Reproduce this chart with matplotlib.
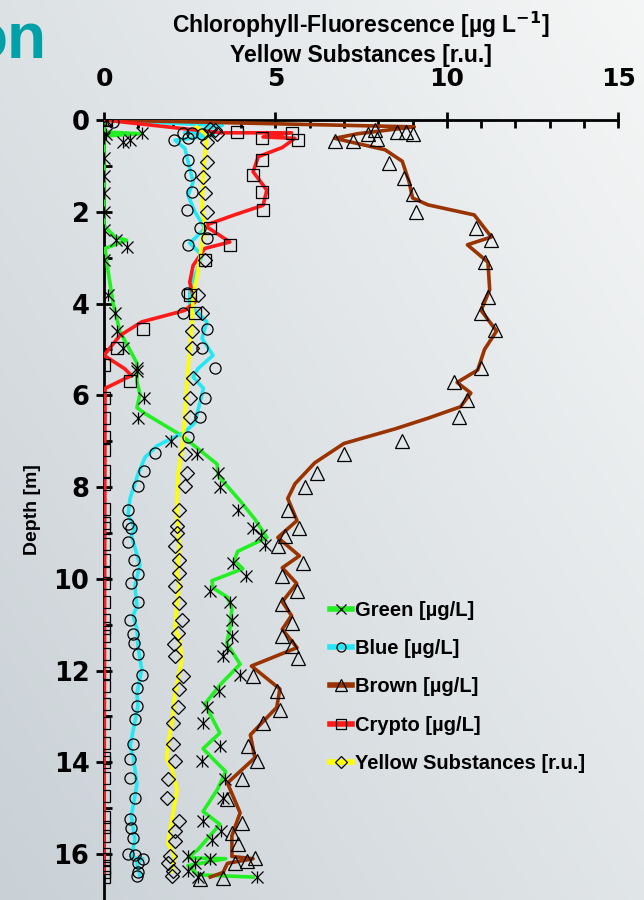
import numpy as np
import matplotlib
matplotlib.use("Agg")
import matplotlib.pyplot as plt
from matplotlib.lines import Line2D

plt.rcParams['font.family'] = ['Liberation Sans', 'DejaVu Sans']

# --- measured points (markers) ---
green_depth = [0.0, 0.28, 0.3, 0.39, 0.44, 0.48, 0.83, 1.22, 1.6, 2.0, 2.4, 2.62, 2.77, 3.05,
               3.82, 4.2, 4.6, 4.98, 5.4, 5.46, 6.07, 6.5, 7.0, 7.27, 7.69, 8.0, 8.5, 8.9,
               9.04, 9.26, 9.65, 9.93, 10.26, 10.5, 10.9, 11.24, 11.5, 11.68, 12.1, 12.45,
               12.8, 13.14, 13.65, 13.97, 14.36, 14.78, 15.28, 15.5, 15.7, 16.05, 16.1,
               16.2, 16.37, 16.5, 16.5]
green_val = [0.05, 1.1, 0.05, 0.0, 0.76, 0.55, 0.0, 0.0, 0.0, 0.0, 0.0, 0.35, 0.66, 0.0,
             0.12, 0.32, 0.38, 0.55, 0.96, 0.96, 1.17, 1.0, 1.95, 2.7, 3.33, 3.38, 3.9, 4.35,
             4.58, 4.7, 3.76, 4.13, 3.09, 3.67, 3.73, 3.73, 3.6, 3.47, 3.97, 3.35,
             3.0, 2.9, 3.38, 2.86, 3.53, 3.47, 2.89, 3.41, 3.15, 2.45, 3.1,
             2.65, 2.45, 2.74, 4.46]

blue_depth = [0.0, 0.05, 0.28, 0.28, 0.3, 0.44, 0.4, 0.87, 1.2, 1.57, 1.96, 2.36, 2.57, 2.73,
              3.76, 4.2, 4.55, 4.98, 5.4, 6.05, 6.48, 6.92, 7.25, 7.66, 7.97, 8.5, 8.8, 8.9,
              9.2, 9.6, 9.9, 10.1, 10.5, 10.9, 11.2, 11.4, 11.64, 12.1, 12.38, 12.77, 13.06,
              13.6, 13.93, 14.35, 14.78, 15.24, 15.44, 15.65, 16.0, 16.02, 16.1, 16.2, 16.4, 16.48]
blue_val = [0.1, 0.25, 2.3, 2.57, 2.86, 2.04, 2.45, 2.45, 2.5, 2.57, 2.42, 2.8, 3.0, 2.45,
            2.42, 2.3, 3.0, 2.86, 3.24, 2.94, 2.8, 2.45, 1.5, 1.17, 1.0, 0.7, 0.7, 0.8,
            0.7, 0.87, 0.98, 0.8, 0.99, 0.76, 0.85, 0.87, 0.99, 1.1, 0.96, 0.96, 0.9,
            0.85, 0.76, 0.76, 0.9, 0.76, 0.8, 0.85, 0.7, 0.9, 1.14, 1.0, 1.0, 0.96]

brown_depth = [0.22, 0.27, 0.27, 0.3, 0.3, 0.42, 0.45, 0.45, 0.94, 1.27, 1.62, 2.0, 2.36, 2.62,
               3.1, 3.86, 4.2, 4.58, 5.4, 5.72, 6.1, 6.48, 7.0, 7.27, 7.7, 8.0, 8.5, 8.9,
               9.06, 9.28, 9.65, 9.93, 10.26, 10.55, 10.96, 11.24, 11.46, 11.72, 12.12,
               12.45, 12.85, 13.14, 13.65, 13.97, 14.37, 14.8, 15.33, 15.55, 15.77, 16.09,
               16.15, 16.2, 16.53, 16.55]
brown_val = [7.9, 8.54, 8.8, 7.7, 9.0, 7.96, 6.73, 7.26, 8.3, 8.75, 9.0, 9.1, 10.85, 11.3,
             11.1, 11.2, 11.0, 11.4, 11.0, 10.2, 10.6, 10.35, 8.7, 7.0, 6.2, 5.85, 5.37, 5.7,
             5.27, 5.07, 5.8, 5.2, 5.63, 5.2, 5.47, 5.2, 5.47, 5.65, 4.35,
             5.04, 5.13, 4.64, 4.2, 4.46, 4.02, 3.6, 4.02, 3.73, 3.9, 4.4,
             4.17, 3.82, 3.47, 2.8]

crypto_depth = [0.0, 0.27, 0.28, 0.4, 0.43, 0.87, 1.2, 1.57, 1.97, 2.36, 2.73, 3.05, 3.82,
                4.2, 4.56, 4.98, 5.35, 5.68, 6.07, 6.5, 6.9, 7.2, 7.64, 7.93, 8.47, 8.78, 8.9,
                9.24, 9.6, 9.87, 10.1, 10.5, 10.9, 11.07, 11.24, 11.64, 12.05, 12.34, 12.73,
                13.14, 13.58, 13.9, 14.0, 14.35, 14.74, 15.2, 15.4, 15.6, 16.0, 16.1, 16.3,
                16.4, 16.5]
crypto_val = [0.05, 3.87, 5.47, 4.6, 5.65, 4.6, 4.35, 4.6, 4.64, 3.1, 3.67, 2.94, 2.5,
              2.65, 1.14, 0.38, 0.0, 0.76, 0.0, 0.0, 0.0, 0.0, 0.0, 0.0, 0.0, 0.0, 0.0,
              0.0, 0.0, 0.0, 0.0, 0.0, 0.0, 0.0, 0.0, 0.0, 0.0, 0.0, 0.0,
              0.0, 0.0, 0.0, 0.0, 0.0, 0.0, 0.0, 0.0, 0.0, 0.0, 0.0, 0.0,
              0.0, 0.0]

yellow_depth = [0.2, 0.22, 0.3, 0.48, 0.92, 1.25, 1.6, 2.0, 3.05, 3.82, 4.2, 4.6, 4.98, 5.63,
                6.07, 6.48, 7.27, 7.69, 7.97, 8.5, 8.85, 9.0, 9.28, 9.6, 9.87, 10.15, 10.52,
                10.9, 11.18, 11.42, 11.68, 12.12, 12.4, 12.8, 13.14, 13.6, 13.97, 14.37,
                14.78, 15.28, 15.5, 15.72, 16.05, 16.2, 16.37, 16.48]
yellow_val = [3.1, 3.24, 3.3, 3.0, 3.0, 2.9, 2.94, 3.0, 2.94, 2.74, 2.86, 2.57, 2.57, 2.6,
              2.5, 2.5, 2.36, 2.42, 2.36, 2.2, 2.13, 2.13, 2.07, 2.2, 2.2, 2.07, 2.2,
              2.27, 2.16, 2.04, 2.07, 2.3, 2.2, 2.16, 2.0, 2.0, 2.07, 1.86,
              1.83, 2.2, 2.07, 2.07, 1.92, 1.86, 2.0, 1.98]

# --- smoothed profiles (lines) ---
green_line_depth = [0.0, 0.26, 0.3, 0.35, 2.3, 2.55, 2.62, 2.8, 3.2, 3.97, 4.6, 5.3, 5.7, 5.97,
                    6.27, 6.4, 6.88, 7.5, 7.75, 8.3, 8.7, 9.1, 9.4, 9.6, 9.78, 10.04, 10.2,
                    10.4, 10.65, 11.1, 11.4, 11.86, 12.3, 12.73, 13.36, 13.7, 13.97, 14.2,
                    14.6, 15.07, 15.35, 15.9, 16.08, 16.1, 16.25, 16.45, 16.5]
green_line_val = [0.0, 0.0, 1.05, 0.0, 0.0, 0.32, 0.66, 0.03, 0.1, 0.26, 0.46, 0.96, 0.96, 1.05,
                  0.96, 1.2, 2.27, 3.3, 3.33, 3.97, 4.4, 4.75, 3.9, 3.8, 4.05, 3.15, 3.18,
                  3.6, 3.73, 3.67, 3.58, 3.97, 3.4, 2.94, 3.38, 2.89, 3.24, 3.55,
                  3.3, 2.89, 3.38, 2.74, 2.45, 3.55, 2.45, 2.74, 4.35]

blue_line_depth = [0.0, 0.12, 0.28, 0.34, 0.44, 0.62, 1.05, 1.35, 1.64, 2.0, 2.36, 2.58, 2.68,
                   2.95, 3.23, 3.67, 4.03, 4.4, 4.76, 5.13, 5.42, 5.6, 5.85, 6.6, 6.8, 7.1,
                   7.35, 7.7, 8.25, 8.6, 8.9, 9.06, 9.7, 10.15, 10.6, 10.8, 11.1, 11.46,
                   11.97, 12.5, 12.77, 13.65, 13.86, 14.48, 15.17, 15.68, 16.08, 16.1,
                   16.2, 16.48]
blue_line_val = [0.0, 3.45, 2.35, 3.2, 2.07, 2.36, 2.5, 2.6, 2.45, 2.65, 2.94, 2.65, 2.5,
                 2.86, 2.74, 2.5, 2.5, 3.0, 2.86, 3.18, 2.74, 2.6, 2.9, 2.65, 2.36, 1.55,
                 1.2, 1.0, 0.76, 0.7, 0.9, 0.8, 1.05, 0.9, 0.96, 0.85, 0.96, 0.99,
                 1.1, 0.96, 0.99, 0.76, 0.85, 0.96, 0.8, 0.9, 0.8, 1.13,
                 0.96, 1.05]

brown_line_depth = [0.0, 0.15, 0.3, 0.4, 0.65, 0.9, 1.35, 1.7, 1.85, 2.07, 2.55, 2.72, 3.1,
                    3.7, 4.15, 4.6, 5.0, 5.45, 5.72, 5.95, 6.25, 6.5, 6.73, 7.05, 7.47,
                    7.93, 8.25, 8.73, 9.1, 9.5, 9.76, 10.1, 10.5, 10.8, 11.1, 11.5, 11.9,
                    12.4, 12.8, 13.4, 13.9, 14.45, 15.1, 15.6, 16.05, 16.1, 16.2, 16.4, 16.5]
brown_line_val = [0.0, 9.05, 7.4, 6.73, 8.2, 8.7, 8.9, 9.0, 9.45, 10.8, 11.3, 10.6, 11.2,
                  11.25, 11.0, 11.45, 11.1, 10.9, 10.3, 10.7, 10.4, 9.45, 8.5, 7.0, 6.15,
                  5.57, 5.36, 5.63, 5.07, 5.7, 5.2, 5.62, 5.2, 5.47, 5.2, 5.63, 4.3,
                  5.13, 5.04, 4.27, 4.4, 3.6, 3.97, 3.73, 3.73, 4.35, 3.6, 3.47, 3.1]

crypto_line_depth = [0.0, 0.28, 0.28, 0.37, 0.4, 0.6, 0.8, 1.13, 1.53, 1.86, 2.07, 2.3, 2.66,
                     2.8, 3.17, 3.54, 3.97, 4.15, 4.4, 4.7, 5.13, 5.42, 5.57, 5.85, 16.4]
crypto_line_val = [0.0, 3.43, 5.47, 4.64, 5.57, 5.2, 4.5, 4.35, 4.75, 4.64, 3.8, 2.94, 3.67,
                   2.94, 2.6, 2.5, 2.65, 2.36, 1.1, 0.46, 0.0, 0.6, 0.8, 0.03, 0.0]

yellow_line_depth = [0.15, 0.33, 1.13, 1.86, 2.36, 2.66, 3.3, 3.82, 4.33, 5.07, 5.42, 6.44,
                     7.03, 7.75, 8.25, 8.62, 9.28, 9.87, 10.15, 10.52, 11.1, 11.3, 11.75,
                     12.5, 13.14, 13.65, 13.93, 14.15, 14.59, 15.17, 15.76, 16.05, 16.37]
yellow_line_val = [2.7, 3.0, 2.9, 2.86, 2.94, 2.86, 2.74, 2.6, 2.57, 2.5, 2.45, 2.36,
                   2.3, 2.16, 2.13, 2.13, 2.2, 2.13, 2.2, 2.13, 2.07, 2.2, 2.27,
                   2.07, 1.98, 1.86, 1.83, 1.98, 2.13, 2.0, 1.86, 2.07, 1.98]

labels = ['Green [µg/L]', 'Blue [µg/L]', 'Brown [µg/L]', 'Crypto [µg/L]',
          'Yellow Substances [r.u.]']
colors = ['#22f022', '#22e8f5', '#993300', '#ff1a1a', '#ffff00']
markers = ['x', 'o', '^', 's', 'D']

fig = plt.figure(figsize=(6.44, 9.0), dpi=100)

# slide background gradient
bg = fig.add_axes([0, 0, 1, 1])
gx, gy = np.meshgrid(np.linspace(0, 1, 200), np.linspace(0, 1, 200))
t = np.clip(0.55 * gx + 0.45 * (1 - gy), 0, 1)
c0 = np.array([0.79, 0.82, 0.84])
c1 = np.array([0.96, 0.965, 0.965])
img = c0[None, None, :] * (1 - t[..., None]) + c1[None, None, :] * t[..., None]
bg.imshow(img, extent=[0, 1, 0, 1], aspect='auto', origin='upper')
bg.axis('off')
# tail of the slide title, cut by the left edge as in the slide
fig.text(0.072, 0.935, 'on', color='#00a0a8', fontsize=46, fontweight='bold',
         ha='right', va='baseline')

ax = fig.add_axes([0.1615, 0.0015, 0.7985, 0.8652])
ax.patch.set_alpha(0)

series = [
    (green_depth, green_val, green_line_depth, green_line_val),
    (blue_depth, blue_val, blue_line_depth, blue_line_val),
    (brown_depth, brown_val, brown_line_depth, brown_line_val),
    (crypto_depth, crypto_val, crypto_line_depth, crypto_line_val),
    (yellow_depth, yellow_val, yellow_line_depth, yellow_line_val),
]
msizes = [8, 8, 10, 8, 7.5]
for (d, v, ld, lv), col, mk, ms in zip(series, colors, markers, msizes):
    ax.plot(lv, ld, color=col, lw=2.6, solid_joinstyle='round', zorder=3)
    if mk == 'x':
        ax.plot(v, d, ls='none', marker='x', ms=ms, mew=0.9, color='black', zorder=4)
        ax.plot(v, d, ls='none', marker='|', ms=ms, mew=0.9, color='black', zorder=4)
    else:
        ax.plot(v, d, ls='none', marker=mk, ms=ms, mfc='none', mec='black', mew=0.9, zorder=4)

ax.set_xlim(0, 15)
ax.set_ylim(16.97, 0)
ax.spines['right'].set_visible(False)
ax.spines['bottom'].set_visible(False)
ax.spines['top'].set_linewidth(2)
ax.spines['left'].set_linewidth(2)
ax.xaxis.set_ticks_position('top')
ax.set_xticks([0, 5, 10, 15])
ax.set_xticks(np.arange(0, 16, 1), minor=True)
ax.set_yticks(np.arange(0, 17, 2))
ax.set_yticks(np.arange(1, 17, 2), minor=True)
ax.tick_params(axis='both', which='major', direction='inout', length=11, width=2)
ax.tick_params(axis='x', which='major', labelsize=18, pad=15)
ax.tick_params(axis='y', which='major', labelsize=18.5, pad=5)
ax.tick_params(axis='both', which='minor', direction='in', length=6, width=2)
for lab in ax.get_xticklabels() + ax.get_yticklabels():
    lab.set_fontweight('bold')
    lab.set_family(['DejaVu Sans'])

fig.text(0.5606, 0.972, 'Chlorophyll-Fluorescence [µg L$^{\\mathbf{-1}}$]', fontsize=16.5,
         fontweight='bold', ha='center', va='center')
fig.text(0.5606, 0.938, 'Yellow Substances [r.u.]', fontsize=16.5,
         fontweight='bold', ha='center', va='center')
ax.set_ylabel('Depth [m]', fontsize=14, fontweight='bold', labelpad=9)

handles = []
for col, mk, ms in zip(colors, markers, msizes):
    handles.append(Line2D([0], [0], color=col, lw=4, marker=mk, ms=ms - 1.5,
                          mfc='none', mec='black', mew=0.9))
leg = ax.legend(handles, labels, loc='upper left', bbox_to_anchor=(0.44, 0.382),
                frameon=False, handlelength=1.1, handletextpad=0.15, labelspacing=0.95,
                borderpad=0, borderaxespad=0,
                prop={'weight': 'bold', 'size': 14.5})

fig.savefig('out.png', dpi=100)
